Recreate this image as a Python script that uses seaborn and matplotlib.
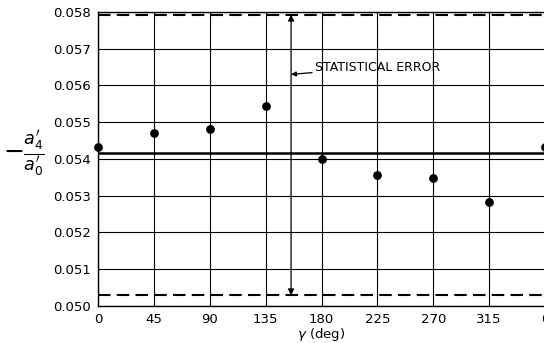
import matplotlib
matplotlib.use("Agg")
import matplotlib.pyplot as plt
import seaborn as sns
import pandas as pd

# Measured ratio -a4'/a0' versus the angle gamma
gamma_deg = [0, 45, 90, 135, 180, 225, 270, 315, 360]
ratio = [0.05432, 0.05470, 0.05482, 0.05544, 0.05399, 0.05357, 0.05348, 0.05282, 0.05432]

mean_ratio = 0.05415
error_upper = 0.05793
error_lower = 0.05028
error_x = 155.5

x_ticks = [0, 45, 90, 135, 180, 225, 270, 315, 360]
x_tick_labels = ["0", "45", "90", "135", "180", "225", "270", "315", "0"]
y_ticks = [0.050, 0.051, 0.052, 0.053, 0.054, 0.055, 0.056, 0.057, 0.058]

df = pd.DataFrame({"gamma": gamma_deg, "ratio": ratio})

sns.set_style("white")
plt.rcParams["font.family"] = ["DejaVu Sans"]
plt.rcParams["text.color"] = "black"
plt.rcParams["axes.labelcolor"] = "black"
plt.rcParams["xtick.color"] = "black"
plt.rcParams["ytick.color"] = "black"

fig = plt.figure(figsize=(5.44, 3.43), dpi=100)
ax = fig.add_axes([0.180, 0.109, 0.822, 0.856])

ax.set_xlim(0, 360)
ax.set_ylim(0.050, 0.058)

# grid
for xv in x_ticks:
    ax.axvline(xv, color="black", lw=0.8, zorder=1)
for yv in y_ticks:
    ax.axhline(yv, color="black", lw=0.8, zorder=1)

# mean line and statistical error band limits
ax.axhline(mean_ratio, color="black", lw=1.8, zorder=2)
ax.axhline(error_upper, color="black", lw=1.5, ls=(0, (6, 3)), zorder=2)
ax.axhline(error_lower, color="black", lw=1.5, ls=(0, (6, 3)), zorder=2)

# double-headed error arrow
ax.annotate("", xy=(error_x, error_upper), xytext=(error_x, error_lower),
            arrowprops=dict(arrowstyle="<|-|>", color="black", lw=0.9,
                            mutation_scale=9, shrinkA=0, shrinkB=0), zorder=3)
ax.annotate("STATISTICAL ERROR", xy=(error_x, 0.05630), xytext=(175, 0.05650),
            fontsize=9, va="center", ha="left", color="black",
            arrowprops=dict(arrowstyle="-|>", color="black", lw=0.9,
                            mutation_scale=7, shrinkA=0, shrinkB=0))

sns.scatterplot(data=df, x="gamma", y="ratio", ax=ax, color="black", s=40,
                edgecolor="black", linewidth=0, zorder=4, clip_on=False, legend=False)

ax.set_xticks(x_ticks)
ax.set_xticklabels(x_tick_labels)
ax.set_yticks(y_ticks)
ax.set_yticklabels([f"{v:.3f}" for v in y_ticks])
ax.tick_params(axis="both", length=0, labelsize=9.5, pad=5, colors="black")

ax.spines["right"].set_visible(False)
for side in ["left", "bottom", "top"]:
    ax.spines[side].set_color("black")
    ax.spines[side].set_linewidth(1.0)

ax.set_xlabel(r"$\gamma$ (deg)", fontsize=9.5, labelpad=0, color="black")
ax.set_ylabel(r"$-\frac{a_4^{\prime}}{a_0^{\prime}}$", fontsize=18, rotation=0,
              labelpad=0, color="black")
ax.yaxis.set_label_coords(-0.165, 0.43)

fig.savefig("out.png", dpi=100)
